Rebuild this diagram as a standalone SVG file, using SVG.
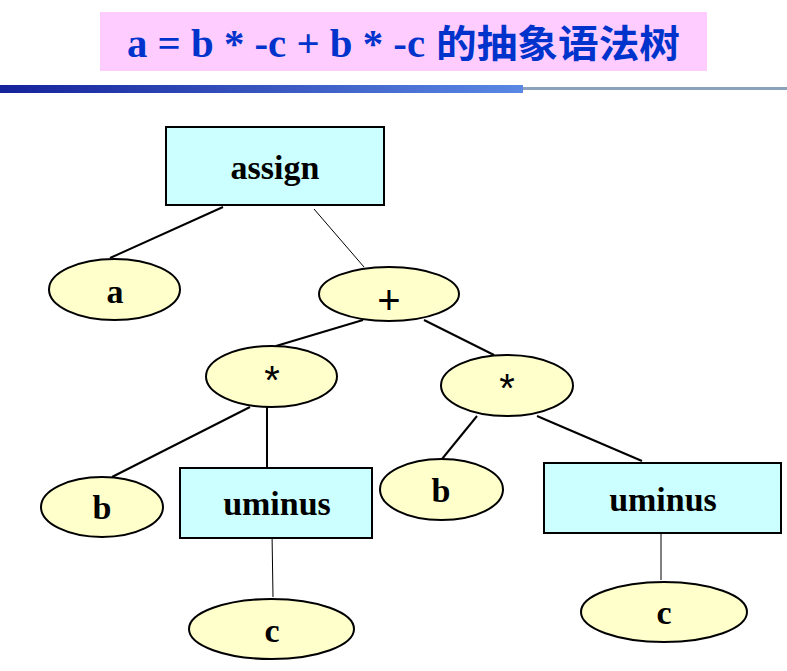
<svg xmlns="http://www.w3.org/2000/svg" width="787" height="671" viewBox="0 0 787 671">
<defs>
<linearGradient id="bar" x1="0" y1="0" x2="1" y2="0">
<stop offset="0" stop-color="#15229a"/>
<stop offset="1" stop-color="#5a88e4"/>
</linearGradient>
</defs>
<style>
.box{fill:#ccffff;stroke:#000;stroke-width:2}
.ell{fill:#ffffcc;stroke:#000;stroke-width:2}
.lbl{font-family:"Liberation Serif","Times New Roman",serif;font-weight:bold;font-size:34px;text-anchor:middle;fill:#000}
.op{font-family:"Liberation Sans",Arial,sans-serif;font-size:40px;text-anchor:middle;fill:#000}
.thick{stroke:#000;stroke-width:2;fill:none}
.thin{stroke:#000;stroke-width:1;fill:none}
</style>
<rect width="787" height="671" fill="#fff"/>
<g id="title">
<rect x="100" y="12" width="607" height="59" fill="#ffccff"/>
<text x="127" y="57" font-family="'Liberation Serif','Noto Sans CJK SC',serif" font-weight="bold" font-size="40" fill="#0033cc"><tspan textLength="298" lengthAdjust="spacingAndGlyphs">a = b * -c + b * -c</tspan><tspan x="436" font-family="'Noto Sans CJK SC',sans-serif" font-size="38" textLength="244" lengthAdjust="spacingAndGlyphs">的抽象语法树</tspan></text>
</g>
<g id="divider">
<rect x="0" y="85" width="523" height="8" fill="url(#bar)"/>
<rect x="523" y="87" width="264" height="3" fill="#8aa2bc"/>
</g>
<g id="connectors">
<line class="thick" x1="223" y1="207" x2="110" y2="258"/>
<line class="thin" x1="314" y1="209" x2="364" y2="267"/>
<line class="thick" x1="363" y1="320" x2="276" y2="346"/>
<line class="thick" x1="424" y1="320" x2="494" y2="355"/>
<line class="thick" x1="250" y1="407" x2="112" y2="477"/>
<line class="thick" x1="267" y1="407" x2="267" y2="468"/>
<line class="thin" x1="272" y1="533" x2="273" y2="597"/>
<line class="thick" x1="477" y1="416" x2="442" y2="459"/>
<line class="thick" x1="537" y1="416" x2="642" y2="461"/>
<line class="thin" x1="661" y1="529" x2="661" y2="580"/>
</g>
<g id="assign">
<rect class="box" x="166" y="127" width="218" height="78"/>
<text class="lbl" x="275" y="179">assign</text>
</g>
<g id="a">
<ellipse class="ell" cx="114.5" cy="289.5" rx="65.5" ry="30.5"/>
<text class="lbl" x="115" y="303">a</text>
</g>
<g id="plus">
<ellipse class="ell" cx="389" cy="294" rx="70" ry="27"/>
<text class="op" x="389" y="314">+</text>
</g>
<g id="mul1">
<ellipse class="ell" cx="271.5" cy="376.5" rx="65.5" ry="30.5"/>
<text class="op" x="272" y="394">*</text>
</g>
<g id="mul2">
<ellipse class="ell" cx="507" cy="385.5" rx="66" ry="30.5"/>
<text class="op" x="507" y="402">*</text>
</g>
<g id="b1">
<ellipse class="ell" cx="102" cy="507" rx="61" ry="30"/>
<text class="lbl" x="102" y="519">b</text>
</g>
<g id="uminus1">
<rect class="box" x="180" y="468" width="192" height="70"/>
<text class="lbl" x="277" y="515">uminus</text>
</g>
<g id="c1">
<ellipse class="ell" cx="271.5" cy="629" rx="82.5" ry="30"/>
<text class="lbl" x="272" y="642">c</text>
</g>
<g id="b2">
<ellipse class="ell" cx="441.5" cy="489.5" rx="61.5" ry="30.5"/>
<text class="lbl" x="441" y="502">b</text>
</g>
<g id="uminus2">
<rect class="box" x="544" y="463" width="237" height="70"/>
<text class="lbl" x="663" y="511">uminus</text>
</g>
<g id="c2">
<ellipse class="ell" cx="664" cy="612" rx="83" ry="30"/>
<text class="lbl" x="664" y="624">c</text>
</g>
</svg>
